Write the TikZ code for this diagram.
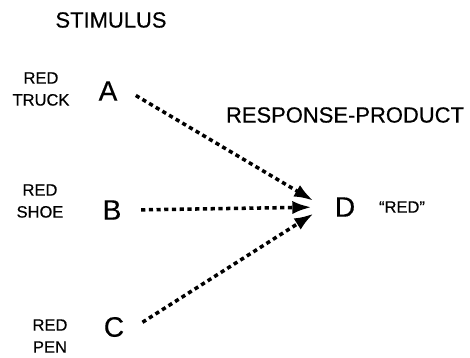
\documentclass[tikz,border=0pt]{standalone}
\usepackage{fontspec}
\setmainfont{Liberation Sans}[FakeBold=0.4]
\usetikzlibrary{arrows.meta}

\tikzset{
  letter/.style={font=\fontsize{16}{16}\selectfont, inner sep=1pt, inner xsep=6pt},
  cue/.style={font=\fontsize{9.4}{12.5}\selectfont, align=center, inner sep=0pt},
  heading/.style={font=\fontsize{12.5}{13}\selectfont, inner sep=0pt},
  link/.style={line width=2pt, dash pattern=on 2.4pt off 2pt,
    -{Latex[length=11pt,width=7.5pt]}, shorten <=5pt, shorten >=7pt}
}

\begin{document}
\begin{tikzpicture}[x=0.02cm,y=-0.02cm]
        \useasboundingbox (0,0) rectangle (470,358);

        % headings
        \node[heading] (stim) at (111,20) {STIMULUS};
        \node[heading] (resp) at (345,115) {RESPONSE-PRODUCT};

        % stimuli
        \node[letter] (A) at (108,91) {A};
        \node[letter] (B) at (112,210) {B};
        \node[letter] (C) at (114,327) {C};
        \node[cue] (truck) at (41,89) {RED\\TRUCK};
        \node[cue] (shoe) at (40,201) {RED\\SHOE};
        \node[cue] (pen) at (50,336) {RED\\PEN};

        % response
        \node[letter] (D) at (345,207) {D};
        \node[cue] (word) at (402,207) {“RED”};

        \draw[link] (A.east) -- (D.west);
        \draw[link] (B.east) -- (D.west);
        \draw[link] (C.east) -- (D.west);

\end{tikzpicture}
\end{document}
